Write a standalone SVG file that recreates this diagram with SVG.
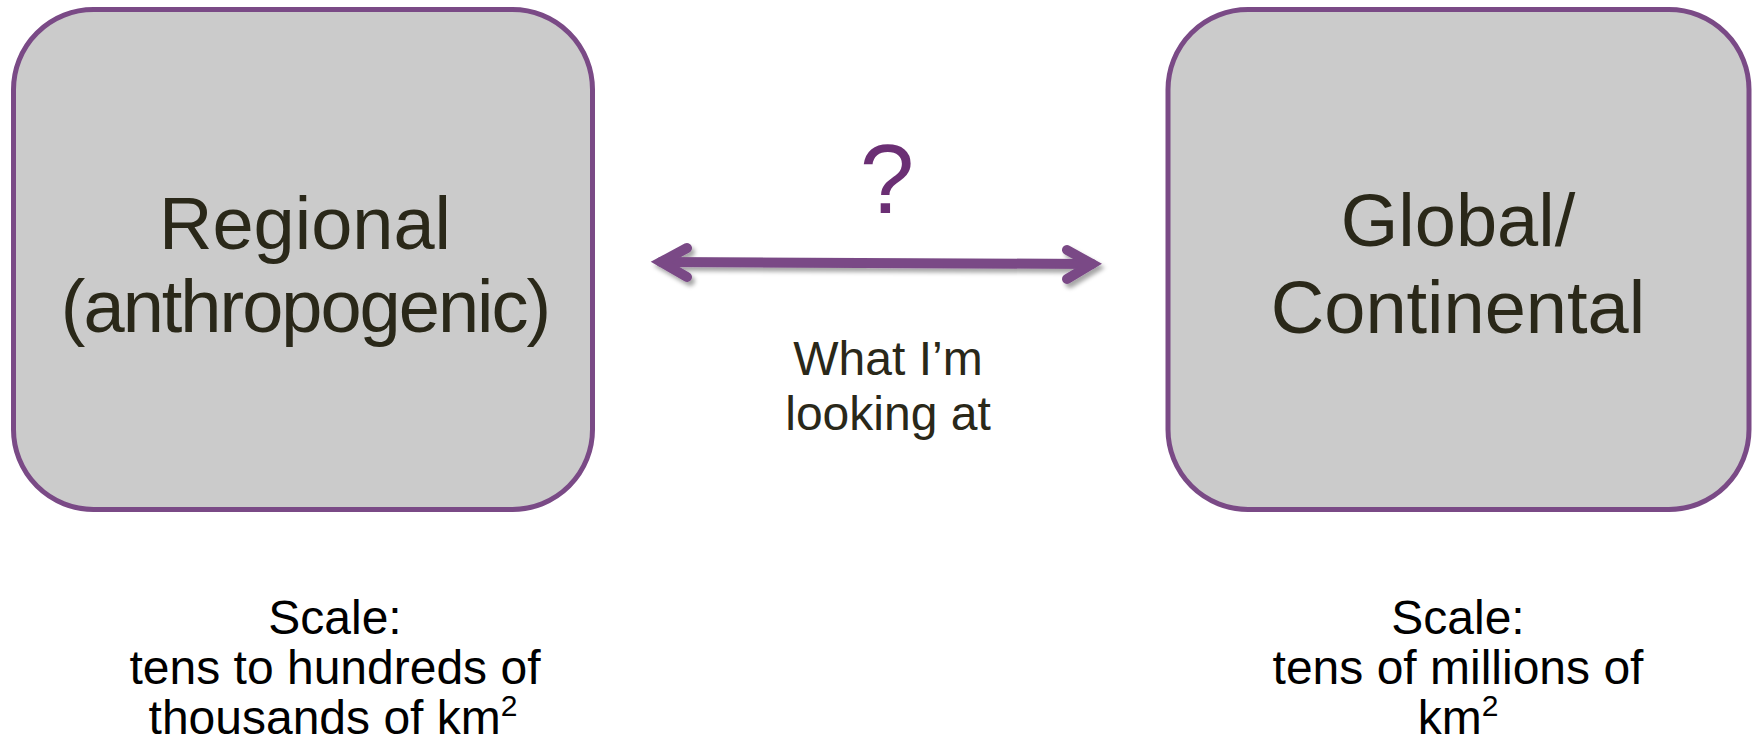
<svg xmlns="http://www.w3.org/2000/svg" width="1753" height="750" viewBox="0 0 1753 750">
  <defs>
    <filter id="arrowShadow" x="-10%" y="-50%" width="120%" height="200%">
      <feDropShadow dx="3" dy="4" stdDeviation="2.2" flood-color="#000000" flood-opacity="0.35"/>
    </filter>
  </defs>
  <style>
    .box { fill: #cbcbcb; stroke: #7a4a86; stroke-width: 5; }
    .boxLabel { font-family: "Liberation Sans", Arial, sans-serif; font-size: 74px; fill: #2a2819; text-anchor: middle; }
    .midLabel { font-family: "Liberation Sans", Arial, sans-serif; font-size: 48px; fill: #2a2819; text-anchor: middle; }
    .question { font-family: "Liberation Sans", Arial, sans-serif; font-size: 98px; fill: #6b2f74; text-anchor: middle; }
    .scale { font-family: "Liberation Sans", Arial, sans-serif; font-size: 48px; fill: #000000; text-anchor: middle; }
    .sup { font-size: 30px; }
    .arrow { fill: none; stroke: #7a4a86; stroke-width: 10; stroke-linecap: round; stroke-linejoin: miter; }
  </style>

  <rect width="1753" height="750" fill="#ffffff"/>

  <!-- left node -->
  <g id="regional">
    <rect class="box" x="13.5" y="9.5" width="579" height="500" rx="80" ry="80"/>
    <text class="boxLabel" x="305" y="249">Regional</text>
    <text class="boxLabel" x="305" y="332" letter-spacing="-2">(anthropogenic)</text>
  </g>

  <!-- right node -->
  <g id="global">
    <rect class="box" x="1168" y="9.5" width="581" height="500" rx="80" ry="80"/>
    <text class="boxLabel" x="1458" y="246">Global/</text>
    <text class="boxLabel" x="1458" y="333">Continental</text>
  </g>

  <!-- double-headed connector between the two scales -->
  <g id="connectors" filter="url(#arrowShadow)">
    <path class="arrow" d="M661,262 L1092,264"/>
    <path class="arrow" d="M687,248 L661,262 L687,277"/>
    <path class="arrow" d="M1067,250 L1092,264 L1067,279"/>
  </g>

  <g id="connector-labels">
    <text class="question" x="887" y="213">?</text>
    <text class="midLabel" x="888" y="375">What I’m</text>
    <text class="midLabel" x="888" y="430">looking at</text>
  </g>

  <!-- scale notes -->
  <g id="scale-regional">
    <text class="scale" x="335" y="634">Scale:</text>
    <text class="scale" x="335" y="684">tens to hundreds of</text>
    <text class="scale" x="333" y="734">thousands of km<tspan class="sup" dy="-18">2</tspan></text>
  </g>
  <g id="scale-global">
    <text class="scale" x="1458" y="634">Scale:</text>
    <text class="scale" x="1458" y="684">tens of millions of</text>
    <text class="scale" x="1458" y="734">km<tspan class="sup" dy="-18">2</tspan></text>
  </g>
</svg>
